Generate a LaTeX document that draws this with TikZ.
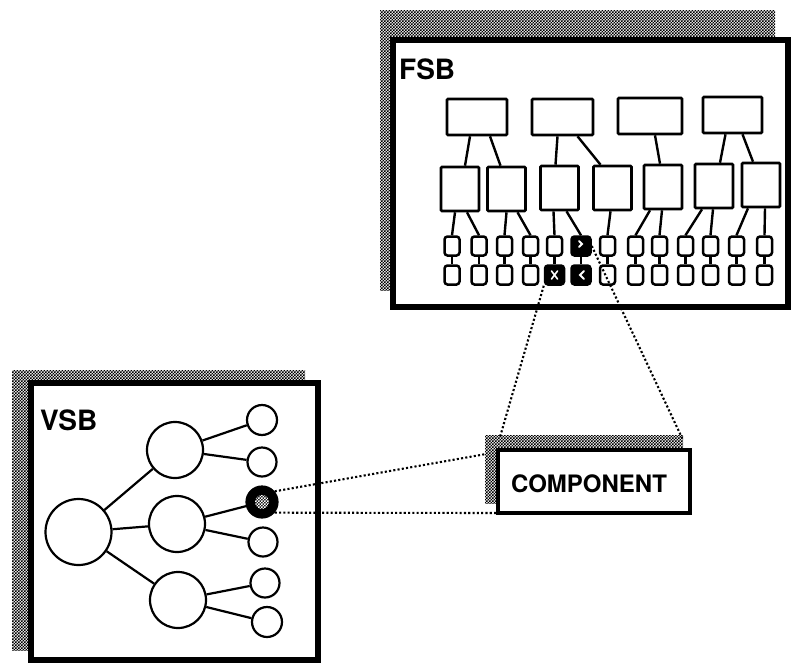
\documentclass[tikz,border=0pt]{standalone}
\usepackage{fontspec}
\setmainfont{TeX Gyre Heros}
\usetikzlibrary{patterns,calc}
\pgfdeclarepatternformonly{finechecker}{\pgfqpoint{-.1pt}{-.1pt}}{\pgfqpoint{3.1pt}{3.1pt}}{\pgfqpoint{3pt}{3pt}}{%
  \pgfpathrectangle{\pgfqpoint{0pt}{0pt}}{\pgfqpoint{1.6pt}{1.6pt}}%
  \pgfpathrectangle{\pgfqpoint{1.5pt}{1.5pt}}{\pgfqpoint{1.6pt}{1.6pt}}%
  \pgfusepath{fill}}
\begin{document}
\begin{tikzpicture}[x=1pt,y=-1pt,
  panel/.style={draw=black,line width=5.5pt,fill=white,inner sep=0,outer sep=0},
  shade/.style={pattern=finechecker},
  bigbox/.style={draw,line width=2.6pt,minimum width=60pt,minimum height=36pt,rounded corners=1pt,inner sep=0},
  midbox/.style={draw,line width=2.6pt,minimum width=38pt,minimum height=44pt,rounded corners=1pt,inner sep=0},
  leaf/.style={draw,line width=2.5pt,minimum width=15pt,minimum height=19pt,rounded corners=3pt,inner sep=0},
  darkleaf/.style={leaf,fill=black,minimum width=19pt},
  link/.style={line width=2.4pt},
  circ/.style={draw,circle,line width=2.2pt,inner sep=0},
  conn/.style={line width=2.1pt,dash pattern=on 2.1pt off 2.2pt},
  lbl/.style={font=\fontsize{28}{28}\selectfont\bfseries,anchor=north west,inner sep=0}
]
\useasboundingbox (0,0) rectangle (793,667);
\fill[white] (0,0) rectangle (793,667);

% ---------------- FSB panel ----------------
\fill[shade] (380,10) rectangle (775,290);
\node[panel,minimum width=395pt,minimum height=267pt] (fsb) at (590.5,173.5) {};
\node[lbl] (fsbl) at (399,59) {FSB};

\node[bigbox,minimum width=60pt] (t1) at (477,117) {};
\node[bigbox,minimum width=61pt] (t2) at (562.5,117) {};
\node[bigbox,minimum width=64pt] (t3) at (650,116) {};
\node[bigbox,minimum width=59pt] (t4) at (732.5,115) {};

\node[midbox] (m1) at (460,189) {};
\node[midbox] (m2) at (506.5,189) {};
\node[midbox] (m3) at (559.5,188) {};
\node[midbox] (m4) at (612.5,188) {};
\node[midbox] (m5) at (663,187) {};
\node[midbox] (m6) at (714,186) {};
\node[midbox] (m7) at (761,185) {};

\draw[link] ($(t1.south)+(-7,0)$) -- ($(m1.north)+(5,0)$);
\draw[link] ($(t1.south)+(13,0)$) -- ($(m2.north)+(-6,0)$);
\draw[link] ($(t2.south)+(-5,0)$) -- ($(m3.north)+(-4,0)$);
\draw[link] ($(t2.south)+(15,0)$) -- ($(m4.north)+(-12,0)$);
\draw[link] ($(t3.south)+(5,0)$) -- ($(m5.north)+(-3,0)$);
\draw[link] ($(t4.south)+(-7,0)$) -- ($(m6.north)+(6,0)$);
\draw[link] ($(t4.south)+(10,0)$) -- ($(m7.north)+(-8,0)$);

\foreach \x/\sa/\sb [count=\i] in {452/leaf/leaf,479/leaf/leaf,504.5/leaf/leaf,530.5/leaf/leaf,
  554.5/leaf/darkleaf,581/darkleaf/darkleaf,607.5/leaf/leaf,635.5/leaf/leaf,659.5/leaf/leaf,
  685.5/leaf/leaf,710.5/leaf/leaf,736.5/leaf/leaf,764.5/leaf/leaf}{
  \node[\sa] (r1c\i) at (\x,246) {};
  \node[\sb] (r2c\i) at (\x,275) {};
  \draw[link] (r1c\i) -- (r2c\i);
}

\draw[link] ($(m1.south)+(-5,0)$) -- (r1c1.north);
\draw[link] ($(m1.south)+(7,0)$) -- (r1c2.north);
\draw[link] ($(m2.south)+(0,0)$) -- (r1c3.north);
\draw[link] ($(m2.south)+(11,0)$) -- (r1c4.north);
\draw[link] ($(m3.south)+(-6,0)$) -- (r1c5.north);
\draw[link] ($(m3.south)+(7,0)$) -- (r1c6.north);
\draw[link] ($(m4.south)+(-2,0)$) -- (r1c7.north);
\draw[link] ($(m5.south)+(-13,0)$) -- (r1c8.north);
\draw[link] ($(m5.south)+(-1,0)$) -- (r1c9.north);
\draw[link] ($(m6.south)+(-12,0)$) -- (r1c10.north);
\draw[link] ($(m6.south)+(-1,0)$) -- (r1c11.north);
\draw[link] ($(m7.south)+(-13,0)$) -- (r1c12.north);
\draw[link] ($(m7.south)+(4,0)$) -- (r1c13.north);

% white marks in the dark leaves
\draw[white,line width=1.8pt,line cap=round] ($(r1c6)+(-2,-5)$) -- ++(3,3) -- ++(-3,3);
\draw[white,line width=1.6pt,line cap=round] ($(r2c5)+(-3,-4)$) -- ++(6,8) ($(r2c5)+(3,-4)$) -- ++(-6,8);
\draw[white,line width=1.8pt,line cap=round] ($(r2c6)+(3,-4)$) -- ++(-4,4) -- ++(4,4);

% ---------------- VSB panel ----------------
\fill[shade] (12,370) rectangle (305,650);
\node[panel,minimum width=287pt,minimum height=277pt] (vsb) at (174.5,521.5) {};
\node[lbl] (vsbl) at (40,410) {VSB};

\node[circ,minimum size=66pt] (vb) at (78.5,532) {};
\node[circ,minimum size=56pt] (va1) at (175,450) {};
\node[circ,minimum size=56pt] (va2) at (177,524) {};
\node[circ,minimum size=56pt] (va3) at (178,600) {};
\node[circ,minimum size=30pt] (s1) at (262,420) {};
\node[circ,minimum size=29pt] (s2) at (262,462) {};
\node[circ,minimum size=31pt,fill=black] (s3) at (262,502) {};
\node[circ,minimum size=29pt] (s4) at (263,542) {};
\node[circ,minimum size=29pt] (s5) at (265,583) {};
\node[circ,minimum size=30pt] (s6) at (267,622) {};
\fill[pattern=finechecker,pattern color=white] (s3.center) circle (7pt);

\draw[link,line width=2.2pt] (vb) -- (va1);
\draw[link,line width=2.2pt] (vb) -- (va2);
\draw[link,line width=2.2pt] (vb) -- (va3);
\draw[link,line width=2.2pt] (va1) -- (s1);
\draw[link,line width=2.2pt] (va1) -- (s2);
\draw[link,line width=2.2pt] (va2) -- (s3);
\draw[link,line width=2.2pt] (va2) -- (s4);
\draw[link,line width=2.2pt] (va3) -- (s5);
\draw[link,line width=2.2pt] (va3) -- (s6);

% ---------------- COMPONENT ----------------
\fill[shade] (485,435) rectangle (683,503);
\node[panel,line width=4.5pt,minimum width=192pt,minimum height=63pt] (comp) at (594,481.5) {};
\node[font=\fontsize{24}{24}\selectfont\bfseries,inner sep=0] (compl) at (589,484) {COMPONENT};

% ---------------- dotted connectors ----------------
\coordinate (cA) at (500,437);
\coordinate (cB) at (683,440);
\coordinate (cC) at (486,454);
\draw[conn] (r2c5.south west) -- (cA);
\draw[conn] (r1c6.east) -- (cB);
\draw[conn] (s3.40) -- (cC);
\draw[conn] (s3.-40) -- (comp.south west);
\end{tikzpicture}
\end{document}
